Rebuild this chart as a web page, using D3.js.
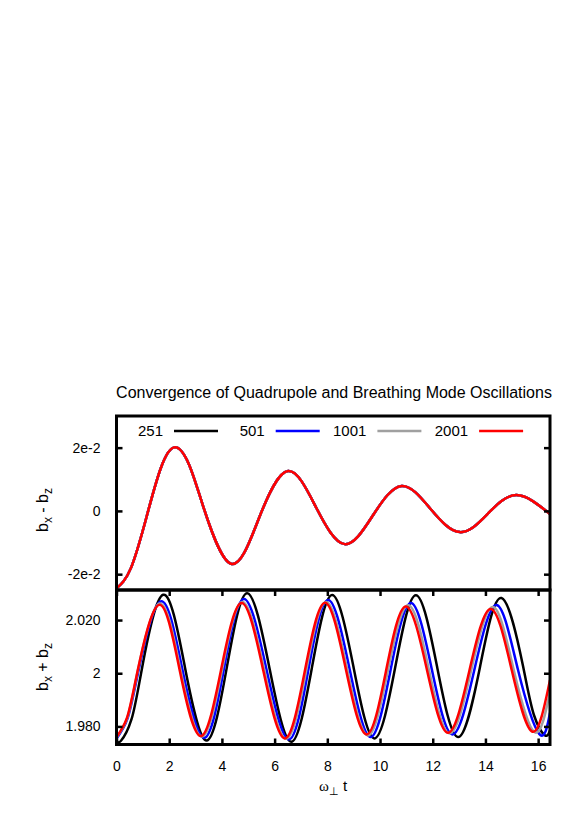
<!DOCTYPE html>
<html>
<head>
<meta charset="utf-8">
<script src="https://cdnjs.cloudflare.com/ajax/libs/d3/7.8.5/d3.min.js"></script>
<style>
  body { margin: 0; background: #fff; }
  svg text { font-family: "Liberation Sans", Arial, sans-serif; fill: #000; }
</style>
</head>
<body>
<div id="chart"></div>
<script>
var seriesNames  = ["251", "501", "1001", "2001"];
var seriesColors = ["#000000", "#0000ff", "#a0a0a0", "#ff0000"];

// top panel: bx - bz, the four resolutions sit on top of each other
var diffT = [0, 0.55, 1.15, 1.68, 2.22, 2.75, 3.28, 4.34, 5.42, 6.51, 7.58, 8.66, 9.74, 10.82, 11.92, 13.03, 14.10, 15.18, 16.45];
var diffV = [-0.0245, -0.0180, -0.0016, 0.0135, 0.0201, 0.0147, 0.0017, -0.0167, -0.0020, 0.0126, 0.0010, -0.0105, -0.0013, 0.0079, 0.0006, -0.0067, -0.0008, 0.0050, -0.0010];

// bottom panel: bx + bz for each resolution
var sumT251 = [0, 0.17, 0.57, 0.97, 1.77, 2.60, 3.42, 4.19, 4.96, 5.80, 6.63, 7.41, 8.18, 8.99, 9.79, 10.58, 11.36, 12.16, 12.96, 13.79, 14.61, 15.43, 15.84, 16.25, 16.45];
var sumV251 = [1.9749, 1.9746, 1.9827, 2.0020, 2.0295, 2.0021, 1.9747, 2.0024, 2.0301, 2.0022, 1.9742, 2.0018, 2.0294, 2.0025, 1.9755, 2.0024, 2.0293, 2.0027, 1.9760, 2.0022, 2.0283, 2.0025, 1.9843, 1.9767, 1.9786];

var sumT501 = [0, 0.42, 0.84, 1.68, 2.50, 3.33, 4.08, 4.84, 5.69, 6.54, 7.28, 8.03, 8.84, 9.64, 10.40, 11.17, 11.96, 12.75, 13.58, 14.42, 15.23, 16.04, 16.45];
var sumV501 = [1.9754, 1.9830, 2.0012, 2.0270, 2.0014, 1.9757, 2.0018, 2.0279, 2.0015, 1.9751, 2.0013, 2.0275, 2.0018, 1.9760, 2.0012, 2.0264, 2.0017, 1.9770, 2.0013, 2.0257, 2.0015, 1.9772, 1.9851];

var sumT1001 = [0, 0.41, 0.81, 1.63, 2.43, 3.24, 4.01, 4.78, 5.61, 6.44, 7.20, 7.95, 8.75, 9.54, 10.30, 11.07, 11.85, 12.64, 13.46, 14.28, 15.07, 15.87, 16.45];
var sumV1001 = [1.9758, 1.9832, 2.0010, 2.0262, 2.0012, 1.9762, 2.0015, 2.0268, 2.0011, 1.9754, 2.0011, 2.0268, 2.0017, 1.9766, 2.0011, 2.0256, 2.0015, 1.9774, 2.0011, 2.0249, 2.0014, 1.9778, 1.9930];

var sumT2001 = [0, 0.40, 0.80, 1.61, 2.40, 3.20, 3.97, 4.75, 5.57, 6.39, 7.15, 7.91, 8.70, 9.49, 10.23, 10.98, 11.78, 12.58, 13.39, 14.20, 15.00, 15.79, 16.45];
var sumV2001 = [1.9760, 1.9833, 2.0008, 2.0257, 2.0010, 1.9764, 2.0014, 2.0264, 2.0010, 1.9755, 2.0010, 2.0265, 2.0017, 1.9770, 2.0010, 2.0251, 2.0013, 1.9776, 2.0009, 2.0242, 2.0011, 1.9780, 1.9975];

var xTicks = [0, 2, 4, 6, 8, 10, 12, 14, 16];
var diffTicks = [0.02, 0, -0.02];
var diffTickLabels = ["2e-2", "0", "-2e-2"];
var sumTicks = [2.02, 2, 1.98];
var sumTickLabels = ["2.020", "2", "1.980"];

var title = "Convergence of Quadrupole and Breathing Mode Oscillations";

function pairs(ts, vs) {
  return ts.map(function (t, i) { return [t, vs[i]]; });
}

var sumSeries = [pairs(sumT251, sumV251), pairs(sumT501, sumV501), pairs(sumT1001, sumV1001), pairs(sumT2001, sumV2001)];
var diffSeries = seriesNames.map(function () { return pairs(diffT, diffV); });

var width  = 581,
    height = 814;

var left = 116.5, right = 550,
    topY = 416, midY = 590, botY = 744.5;

var x    = d3.scaleLinear().domain([0, 16.45]).range([left, right]);
var yTop = d3.scaleLinear().domain([-0.025, 0.030]).range([midY, topY]);
var yBot = d3.scaleLinear().domain([1.9732, 2.0313]).range([botY, midY]);

var svg = d3.select("#chart")
            .append("svg")
            .attr("width", width)
            .attr("height", height);

var defs = svg.append("defs");
defs.append("clipPath").attr("id", "clipTop")
    .append("rect").attr("x", left).attr("y", topY).attr("width", right - left).attr("height", midY - topY);
defs.append("clipPath").attr("id", "clipBot")
    .append("rect").attr("x", left).attr("y", midY).attr("width", right - left).attr("height", botY - midY);

// title
svg.append("text")
   .attr("x", 334)
   .attr("y", 398)
   .attr("text-anchor", "middle")
   .style("font-size", "16px")
   .text(title);

// curves
function drawCurves(data, yScale, clip) {
  var line = d3.line()
               .x(function (d) { return x(d[0]); })
               .y(function (d) { return yScale(d[1]); })
               .curve(d3.curveNatural);

  svg.append("g")
     .attr("clip-path", "url(#" + clip + ")")
     .selectAll("path")
     .data(data)
     .enter()
     .append("path")
     .attr("d", line)
     .attr("fill", "none")
     .attr("stroke", function (d, i) { return seriesColors[i]; })
     .attr("stroke-width", 2.5);
}

drawCurves(diffSeries, yTop, "clipTop");
drawCurves(sumSeries, yBot, "clipBot");

// axes, ticks pointing inward
function styleAxis(g) {
  g.select(".domain").remove();
  g.selectAll(".tick line").attr("stroke", "#000").attr("stroke-width", 2.5);
  g.selectAll(".tick text").style("font-size", "14px").attr("fill", "#000");
}

svg.append("g")
   .attr("transform", "translate(" + left + ",0)")
   .call(d3.axisLeft(yTop).tickValues(diffTicks).tickSize(-6).tickPadding(16)
           .tickFormat(function (d, i) { return diffTickLabels[i]; }))
   .call(styleAxis);

svg.append("g")
   .attr("transform", "translate(" + right + ",0)")
   .call(d3.axisRight(yTop).tickValues(diffTicks).tickSize(-6).tickFormat(""))
   .call(styleAxis);

svg.append("g")
   .attr("transform", "translate(" + left + ",0)")
   .call(d3.axisLeft(yBot).tickValues(sumTicks).tickSize(-6).tickPadding(16)
           .tickFormat(function (d, i) { return sumTickLabels[i]; }))
   .call(styleAxis);

svg.append("g")
   .attr("transform", "translate(" + right + ",0)")
   .call(d3.axisRight(yBot).tickValues(sumTicks).tickSize(-6).tickFormat(""))
   .call(styleAxis);

svg.append("g")
   .attr("transform", "translate(0," + botY + ")")
   .call(d3.axisBottom(x).tickValues(xTicks).tickSize(-6).tickPadding(17).tickFormat(d3.format("d")))
   .call(styleAxis);

svg.append("g")
   .attr("transform", "translate(0," + midY + ")")
   .call(d3.axisTop(x).tickValues(xTicks).tickSize(-6).tickFormat(""))
   .call(styleAxis);

// panel borders
svg.append("rect")
   .attr("x", left).attr("y", topY)
   .attr("width", right - left).attr("height", midY - topY)
   .attr("fill", "none").attr("stroke", "#000").attr("stroke-width", 3);

svg.append("rect")
   .attr("x", left).attr("y", midY)
   .attr("width", right - left).attr("height", botY - midY)
   .attr("fill", "none").attr("stroke", "#000").attr("stroke-width", 3);

// legend across the top of the upper panel
var key = svg.append("g").selectAll("g")
             .data(seriesNames)
             .enter()
             .append("g")
             .attr("transform", function (d, i) { return "translate(" + (163 + i * 101.7) + ",431)"; });

key.append("text")
   .attr("text-anchor", "end")
   .attr("dy", "0.35em")
   .style("font-size", "15px")
   .text(function (d) { return d; });

key.append("line")
   .attr("x1", 11).attr("x2", 55)
   .attr("stroke", function (d, i) { return seriesColors[i]; })
   .attr("stroke-width", 2.5);

// axis titles
var yl1 = svg.append("text")
             .attr("transform", "translate(48,510) rotate(-90)")
             .attr("text-anchor", "middle")
             .style("font-size", "16px");
yl1.append("tspan").text("b");
yl1.append("tspan").attr("dy", 4).style("font-size", "12px").text("x");
yl1.append("tspan").attr("dy", -4).text(" - b");
yl1.append("tspan").attr("dy", 4).style("font-size", "12px").text("z");

var yl2 = svg.append("text")
             .attr("transform", "translate(48,667) rotate(-90)")
             .attr("text-anchor", "middle")
             .style("font-size", "16px");
yl2.append("tspan").text("b");
yl2.append("tspan").attr("dy", 4).style("font-size", "12px").text("x");
yl2.append("tspan").attr("dy", -4).text(" + b");
yl2.append("tspan").attr("dy", 4).style("font-size", "12px").text("z");

var xl = svg.append("text")
            .attr("x", 333)
            .attr("y", 791)
            .attr("text-anchor", "middle")
            .style("font-size", "15px");
xl.append("tspan").style("font-family", "'Liberation Serif', serif").text("\u03c9");
xl.append("tspan").attr("dy", 4).style("font-size", "11px").text("\u22a5");
xl.append("tspan").attr("dy", -4).text(" t");
</script>
</body>
</html>
